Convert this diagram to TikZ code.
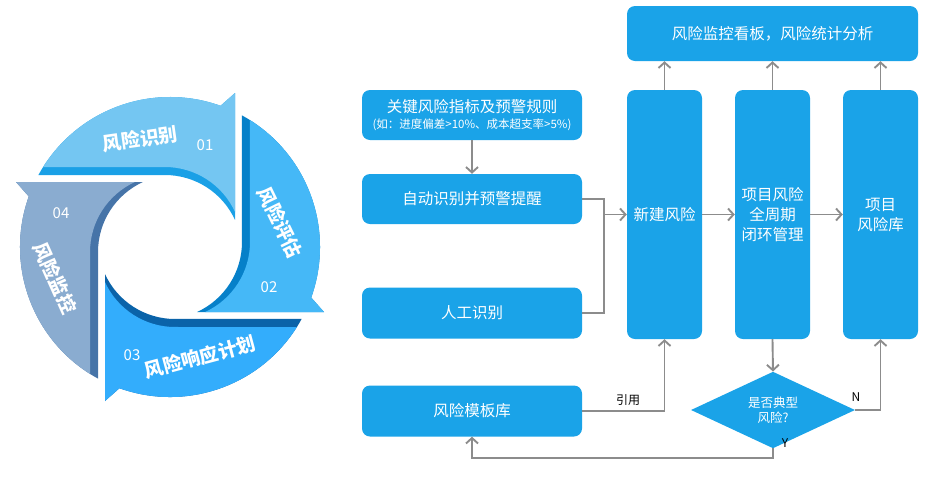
\documentclass[tikz,border=0pt]{standalone}
\usepackage{fontspec}
\setmainfont{Noto Sans CJK SC}
\usetikzlibrary{arrows.meta,shapes.geometric}
\definecolor{boxblue}{HTML}{1AA3E8}
\definecolor{lnk}{HTML}{8C8C8C}
\definecolor{sAl}{HTML}{74C6F2}\definecolor{sAd}{HTML}{1AA0E6}
\definecolor{sBl}{HTML}{45B8F7}\definecolor{sBd}{HTML}{0680C9}
\definecolor{sCl}{HTML}{33ADFC}\definecolor{sCd}{HTML}{0A63A9}
\definecolor{sDl}{HTML}{8AACD0}\definecolor{sDd}{HTML}{4674A8}
\newcommand\cyclepiece[3]{%
  \begin{scope}[shift={(170,247)},rotate=#1]
    \fill[#3] (-151.32:150) arc[start angle=-151.32, end angle=-70.3, radius=150]
      -- (65,-154) -- (65,-27.07) arc[start angle=-24.62, end angle=-90, radius=77] -- cycle;
    \fill[#2] (-147.77:150) arc[start angle=-147.77, end angle=-70.3, radius=150]
      -- (65,-154) -- (65,-35.07) arc[start angle=-24.62, end angle=-90, radius=77] -- cycle;
  \end{scope}}
\tikzset{
  box/.style={rectangle, fill=boxblue, rounded corners=8pt, text=white,
    font=\fontsize{15.5}{20}\selectfont, align=center, inner sep=0pt},
  conn/.style={draw=lnk, line width=1.9pt, -{Straight Barb[length=5.5pt,width=12pt]}},
  plain/.style={draw=lnk, line width=1.9pt},
  seglbl/.style={text=white, font=\fontsize{19}{21}\selectfont\bfseries},
  segnum/.style={text=white, font=\fontsize{15}{18}\selectfont},
  lbl/.style={text=black, font=\fontsize{12}{14}\selectfont, inner sep=0pt}
}
\begin{document}
\begin{tikzpicture}[x=1pt,y=-1pt]
\useasboundingbox (0,0) rectangle (930,483);
% cycle graphic
\cyclepiece{0}{sAl}{sAd}
\cyclepiece{-90}{sBl}{sBd}
\cyclepiece{-180}{sCl}{sCd}
\cyclepiece{-270}{sDl}{sDd}
\node[seglbl, rotate=8] (t1) at (140,139) {风险识别};
\node[segnum] (n1) at (205,145) {01};
\node[seglbl, rotate=-64] (t2) at (280,222) {风险评估};
\node[segnum] (n2) at (269,287) {02};
\node[seglbl, rotate=15] (t3) at (200,357) {风险响应计划};
\node[segnum] (n3) at (132,355) {03};
\node[seglbl, rotate=-66] (t4) at (55,278) {风险监控};
\node[segnum] (n4) at (61,213) {04};
% flow boxes
\node[box, minimum width=220pt, minimum height=50pt] (kri) at (472,115)
  {关键风险指标及预警规则\\[-4pt]{\fontsize{11.5}{13}\selectfont (如：进度偏差>10\%、成本超支率>5\%)}};
\node[box, minimum width=220pt, minimum height=50pt] (auto) at (472,199) {自动识别并预警提醒};
\node[box, minimum width=220pt, minimum height=51pt] (manual) at (472,313) {人工识别};
\node[box, minimum width=220pt, minimum height=51pt] (tmpl) at (472,411) {风险模板库};
\node[box, minimum width=291pt, minimum height=55pt] (top) at (772.5,33.5) {风险监控看板，风险统计分析};
\node[box, minimum width=75pt, minimum height=249pt] (new) at (664.5,214.5) {新建风险};
\node[box, minimum width=75pt, minimum height=249pt] (proj) at (772.5,214.5) {项目风险\\全周期\\闭环管理};
\node[box, minimum width=75pt, minimum height=249pt] (lib) at (880.5,214.5) {项目\\风险库};
\node[diamond, fill=boxblue, text=white, inner sep=0pt, minimum width=164pt, minimum height=50pt,
  font=\fontsize{12.5}{15}\selectfont, align=center] (dia) at (773,410) {是否典型\\风险?};
% connectors
\draw[conn] (kri.south) -- (auto.north);
\coordinate (ja) at (604,199);
\coordinate (jb) at (604,313);
\coordinate (jc) at (604,214.5);
\draw[plain] (auto.east) -- (ja) -- (jb) -- (manual.east);
\draw[conn] (jc) -- (new.west);
\draw[conn] (new.east) -- (proj.west);
\draw[conn] (proj.east) -- (lib.west);
\draw[conn] (new.north) -- (new.north |- top.south);
\draw[conn] (proj.north) -- (proj.north |- top.south);
\draw[conn] (lib.north) -- (lib.north |- top.south);
\draw[conn] (proj.south) -- (dia.north);
\draw[conn] (dia.east) -| (lib.south);
\coordinate (yb) at (773,458);
\draw[conn] (dia.south) -- (dia.south |- yb) -| (tmpl.south);
\draw[conn] (tmpl.east) -| (new.south);
\node[lbl] (ly) at (628,400) {引用};
\node[lbl] (ln) at (856,397) {N};
\node[lbl] (lyes) at (785,443) {Y};
\end{tikzpicture}
\end{document}
